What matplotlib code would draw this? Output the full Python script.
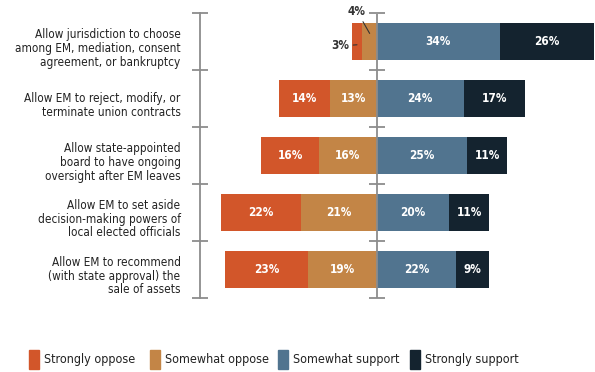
import matplotlib.pyplot as plt
from matplotlib.patches import Rectangle

plt.rcParams['font.family'] = ['DejaVu Sans']
plt.rcParams['font.stretch'] = 'condensed'

questions = [
    "Allow jurisdiction to choose\namong EM, mediation, consent\nagreement, or bankruptcy",
    "Allow EM to reject, modify, or\nterminate union contracts",
    "Allow state-appointed\nboard to have ongoing\noversight after EM leaves",
    "Allow EM to set aside\ndecision-making powers of\nlocal elected officials",
    "Allow EM to recommend\n(with state approval) the\nsale of assets",
]
strongly_oppose = [3, 14, 16, 22, 23]
somewhat_oppose = [4, 13, 16, 21, 19]
somewhat_support = [34, 24, 25, 20, 22]
strongly_support = [26, 17, 11, 11, 9]

labels = ["Strongly oppose", "Somewhat oppose", "Somewhat support", "Strongly support"]
colors = ["#D2562A", "#C38546", "#51748F", "#14232F"]
axis_gray = "#8C8C8C"

fig = plt.figure(figsize=(5.95, 3.72), dpi=100)
ax = fig.add_axes([200 / 595, 1 - 298 / 372, 395 / 595, 284.5 / 372])

rows = list(range(len(questions)))
h = 0.65
ax.barh(rows, [-v for v in somewhat_oppose], height=h, color=colors[1])
ax.barh(rows, [-v for v in strongly_oppose], left=[-v for v in somewhat_oppose],
        height=h, color=colors[0])
ax.barh(rows, somewhat_support, height=h, color=colors[2])
ax.barh(rows, strongly_support, left=somewhat_support, height=h, color=colors[3])

# value labels inside the bars (first row is too narrow on the oppose side)
for i in rows:
    so, wo, ws, ss = strongly_oppose[i], somewhat_oppose[i], somewhat_support[i], strongly_support[i]
    segs = [(-wo - so / 2, so), (-wo / 2, wo), (ws / 2, ws), (ws + ss / 2, ss)]
    for j, (xc, v) in enumerate(segs):
        if i == 0 and j < 2:
            continue
        ax.text(xc, i, f"{v}%", ha='center', va='center', color='white',
                fontsize=8.5, fontweight='bold')

# leader-line labels for the small first-row segments
ax.annotate(f"{somewhat_oppose[0]}%", xy=(-somewhat_oppose[0] / 2, -0.15),
            xytext=(-5.5, -0.54), ha='center', va='center', fontsize=8.5,
            fontweight='bold', color='#333333', annotation_clip=False,
            arrowprops=dict(arrowstyle='-', color='#333333', lw=0.8, shrinkA=1, shrinkB=0))
ax.annotate(f"{strongly_oppose[0]}%", xy=(-somewhat_oppose[0] - strongly_oppose[0] / 2, 0.05),
            xytext=(-10.2, 0.07), ha='center', va='center', fontsize=8.5,
            fontweight='bold', color='#333333', annotation_clip=False,
            arrowprops=dict(arrowstyle='-', color='#333333', lw=0.8, shrinkA=1, shrinkB=0))

ax.set_xlim(-48.9, 60.3)
ax.set_ylim(len(questions) - 0.5, -0.5)

bounds = [r - 0.5 for r in rows] + [len(rows) - 0.5]
ax.set_yticks(bounds)
ax.set_yticklabels([])
ax.tick_params(axis='y', which='major', direction='inout', length=11, width=1.3,
               color=axis_gray)
# question labels sit a little below the bar centres
ax.set_yticks([r + 0.08 for r in rows], minor=True)
ax.set_yticklabels(questions, minor=True, fontsize=8.5, color='#222222',
                   linespacing=1.08)
ax.tick_params(axis='y', which='minor', length=0, pad=14)
ax.set_xticks([])

for s in ['top', 'right', 'bottom']:
    ax.spines[s].set_visible(False)
ax.spines['left'].set_color(axis_gray)
ax.spines['left'].set_linewidth(1.3)

# center divider with the same tick marks
ax.axvline(0, color=axis_gray, lw=1.3, zorder=3)
ax.plot([0] * len(bounds), bounds, linestyle='none', marker='_', markersize=11,
        markeredgewidth=1.3, color=axis_gray, clip_on=False, zorder=3)

# legend
legend_x = [29, 150, 278, 410]
for x0, lab, c in zip(legend_x, labels, colors):
    fig.add_artist(Rectangle((x0 / 595, 1 - 369 / 372), 10 / 595, 19 / 372,
                             color=c, transform=fig.transFigure))
    fig.text((x0 + 15) / 595, 1 - 359 / 372, lab, fontsize=9, color='#222222',
             va='center', ha='left')

fig.savefig("out.png", dpi=100)
